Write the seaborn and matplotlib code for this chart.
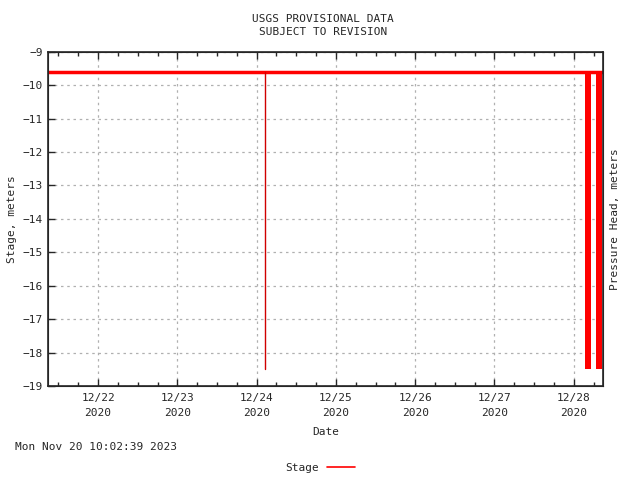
import matplotlib
matplotlib.use("Agg")
import matplotlib.pyplot as plt
import matplotlib.dates as mdates
import seaborn as sns
import pandas as pd

# stage readings (meters)
stage_times = ["2020-12-21 08:50", "2020-12-22 12:00", "2020-12-23 12:00", "2020-12-24 02:40",
               "2020-12-25 12:00", "2020-12-26 12:00", "2020-12-27 12:00", "2020-12-28 08:40"]
stage_vals = [-9.6, -9.6, -9.6, -9.6, -9.6, -9.6, -9.6, -9.6]

# single dropout spike
spike_time = "2020-12-24 02:40"
spike_low = -18.5

# rapid oscillation blocks at the end of the record
burst_start = ["2020-12-28 03:20", "2020-12-28 06:40", "2020-12-28 08:05"]
burst_end = ["2020-12-28 05:10", "2020-12-28 07:50", "2020-12-28 08:30"]
burst_low = -18.5
burst_high = -9.6

day_ticks = ["2020-12-22", "2020-12-23", "2020-12-24", "2020-12-25", "2020-12-26", "2020-12-27", "2020-12-28"]
x_start, x_end = "2020-12-21 08:50", "2020-12-28 08:50"

sns.set_style("ticks")
plt.rcParams['font.family'] = ['DejaVu Sans Mono']
plt.rcParams['font.size'] = 8

df = pd.DataFrame({"time": pd.to_datetime(stage_times), "stage": stage_vals})

fig = plt.figure(figsize=(6.4, 4.8), dpi=100)
ax = fig.add_axes([0.075, 0.196, 0.867, 0.696])

sns.lineplot(data=df, x="time", y="stage", color="red", linewidth=2.5, ax=ax, label="Stage")
ax.plot(pd.to_datetime([spike_time, spike_time]), [burst_high, spike_low], color="#d00000", linewidth=1)
for s, e in zip(burst_start, burst_end):
    ax.fill_between(pd.to_datetime([s, e]), burst_low, burst_high, color="red", linewidth=0)

ax.set_xlim(pd.Timestamp(x_start), pd.Timestamp(x_end))
ax.set_ylim(-19, -9)
ax.set_yticks(range(-19, -8))
ax.set_xticks(pd.to_datetime(day_ticks))
ax.xaxis.set_major_formatter(mdates.DateFormatter("%m/%d\n%Y"))
for lab in ax.get_xticklabels():
    lab.set_linespacing(1.7)
ax.xaxis.set_minor_locator(mdates.HourLocator(byhour=[0, 6, 12, 18]))
ax.tick_params(direction="in", top=True, right=True, which="both", length=5, width=1)
ax.tick_params(which="minor", length=3)
ax.tick_params(axis="x", pad=5)
ax.grid(True, which="major", linestyle=(0, (2, 3)), color="#b0b0b0", linewidth=0.9)
for sp in ax.spines.values():
    sp.set_linewidth(1.2)

ax.set_xlabel("Date", labelpad=6)
ax.set_ylabel("Stage, meters")
ax2 = ax.twinx()
ax2.set_yticks([])
ax2.set_ylabel("Pressure Head, meters", labelpad=5)

fig.text(0.505, 0.947, "USGS PROVISIONAL DATA\nSUBJECT TO REVISION", ha="center", va="center", linespacing=1.3)
fig.text(0.023, 0.068, "Mon Nov 20 10:02:39 2023", ha="left", va="center")

leg = ax.legend(loc="center", bbox_to_anchor=(0.5, 0.025), bbox_transform=fig.transFigure,
                frameon=False, markerfirst=False, handlelength=2.5)
for h in leg.get_lines():
    h.set_linewidth(1.2)

fig.savefig("out.png", dpi=100)
